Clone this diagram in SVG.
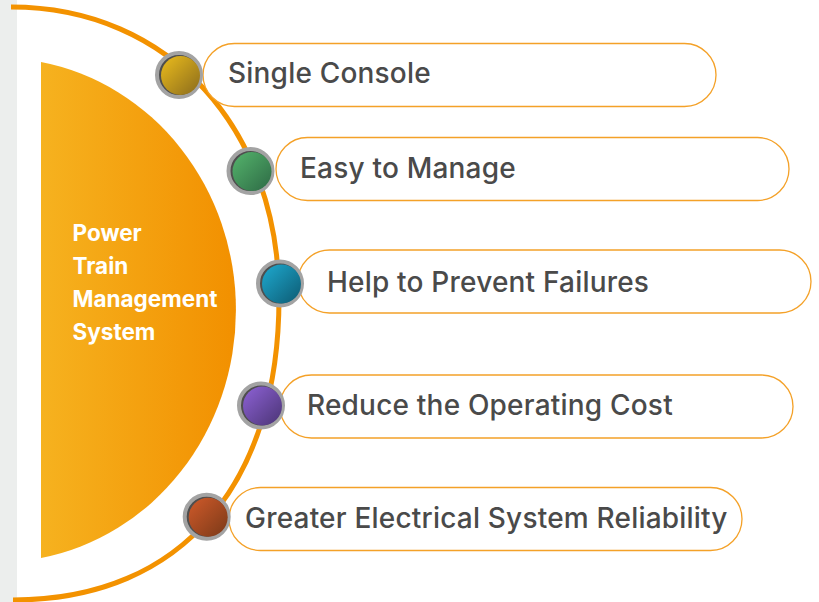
<svg xmlns="http://www.w3.org/2000/svg" width="819" height="602" viewBox="0 0 819 602">
  <defs>
    <linearGradient id="gOrange" x1="0" y1="0" x2="1" y2="0">
      <stop offset="0" stop-color="#f6b21f"/>
      <stop offset="1" stop-color="#f29000"/>
    </linearGradient>
    <linearGradient id="gGold" x1="0" y1="0" x2="1" y2="1">
      <stop offset="0" stop-color="#ecbd1c"/>
      <stop offset="1" stop-color="#8a6b1c"/>
    </linearGradient>
    <linearGradient id="gGreen" x1="0" y1="0" x2="1" y2="1">
      <stop offset="0" stop-color="#55b46c"/>
      <stop offset="1" stop-color="#2d6a45"/>
    </linearGradient>
    <linearGradient id="gBlue" x1="0" y1="0" x2="1" y2="1">
      <stop offset="0" stop-color="#1eaad0"/>
      <stop offset="1" stop-color="#0d5a72"/>
    </linearGradient>
    <linearGradient id="gPurple" x1="0" y1="0" x2="1" y2="1">
      <stop offset="0" stop-color="#8e62d6"/>
      <stop offset="1" stop-color="#4a3474"/>
    </linearGradient>
    <linearGradient id="gRust" x1="0" y1="0" x2="1" y2="1">
      <stop offset="0" stop-color="#d05a2a"/>
      <stop offset="1" stop-color="#7a3918"/>
    </linearGradient>
  </defs>
  <style>
    .pill { fill: #ffffff; stroke: #f4a128; stroke-width: 1.3; }
    .ring { fill: #4e4e4e; stroke: #a3a3a3; stroke-width: 4; }
    .lbl { font-family: Inter, "Liberation Sans", sans-serif; font-weight: 500; font-size: 28px; letter-spacing: 0.2px; fill: #4a4a4a; }
    .ctr { font-family: Inter, "Liberation Sans", sans-serif; font-weight: 700; font-size: 22.5px; fill: #ffffff; }
    .arc { fill: none; stroke: #f39200; stroke-width: 5; }
  </style>

  <rect x="0" y="0" width="819" height="602" fill="#ffffff"/>
  <rect x="0" y="0" width="17" height="602" fill="#eceeed"/>

  <g id="center">
    <path d="M41,62 A237,252 0 0 1 41,558 Z" fill="url(#gOrange)"/>
    <text class="ctr" x="72.5" y="241">Power</text>
    <text class="ctr" x="72.5" y="274">Train</text>
    <text class="ctr" x="72.5" y="307">Management</text>
    <text class="ctr" x="72.5" y="340">System</text>
  </g>

  <g id="connectors">
    <path class="arc" d="M11,7 C170,7 279,130 279,298 C279,480 185,600 13,600"/>
  </g>

  <g id="item1">
    <rect class="pill" x="203" y="43.5" width="513" height="63" rx="31.5"/>
    <circle class="ring" cx="179" cy="75" r="22"/>
    <circle cx="180.5" cy="75.5" r="19.5" fill="url(#gGold)"/>
    <text class="lbl" x="228" y="83">Single Console</text>
  </g>

  <g id="item2">
    <rect class="pill" x="276" y="137.5" width="513" height="63" rx="31.5"/>
    <circle class="ring" cx="250.5" cy="171" r="22"/>
    <circle cx="252" cy="171.5" r="19.5" fill="url(#gGreen)"/>
    <text class="lbl" x="300" y="178">Easy to Manage</text>
  </g>

  <g id="item3">
    <rect class="pill" x="298" y="250" width="513" height="63" rx="31.5"/>
    <circle class="ring" cx="280" cy="283.5" r="22"/>
    <circle cx="281.5" cy="284" r="19.5" fill="url(#gBlue)"/>
    <text class="lbl" x="327" y="292">Help to Prevent Failures</text>
  </g>

  <g id="item4">
    <rect class="pill" x="280" y="375" width="513" height="63" rx="31.5"/>
    <circle class="ring" cx="261" cy="405.5" r="22"/>
    <circle cx="262.5" cy="406" r="19.5" fill="url(#gPurple)"/>
    <text class="lbl" x="307" y="415">Reduce the Operating Cost</text>
  </g>

  <g id="item5">
    <rect class="pill" x="229" y="487.5" width="513" height="63" rx="31.5"/>
    <circle class="ring" cx="206.7" cy="516.7" r="22"/>
    <circle cx="208.2" cy="517.2" r="19.5" fill="url(#gRust)"/>
    <text class="lbl" x="245" y="527.5">Greater Electrical System Reliability</text>
  </g>
</svg>
